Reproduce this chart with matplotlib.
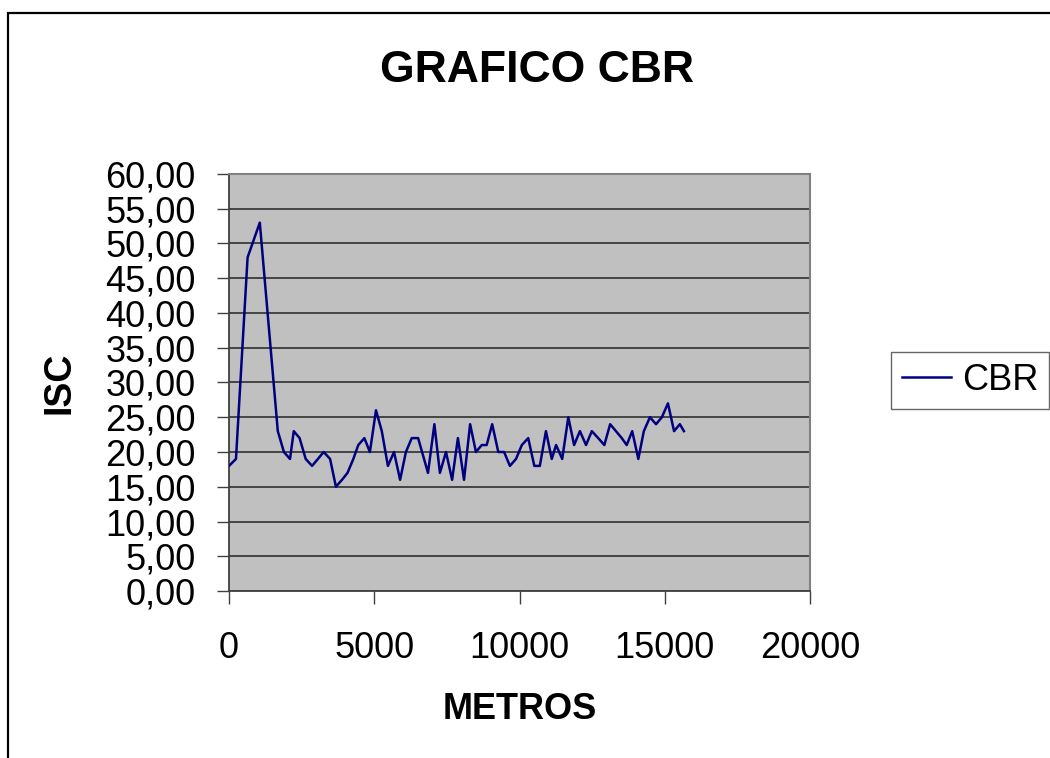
import matplotlib
matplotlib.use("Agg")
import matplotlib.pyplot as plt
from matplotlib.patches import Rectangle
from matplotlib.ticker import FuncFormatter, MultipleLocator

plt.rcParams['font.family'] = ['Liberation Sans', 'DejaVu Sans']

# station (metres) and CBR values
metros = [0, 240, 640, 1060, 1680, 1890, 2100, 2230, 2430, 2640, 2860, 3060,
          3260, 3480, 3680, 3890, 4080, 4280, 4450, 4660, 4850, 5060, 5260,
          5470, 5680, 5890, 6090, 6290, 6510, 6850, 7070, 7260, 7470, 7680,
          7880, 8090, 8300, 8500, 8700, 8870, 9060, 9270, 9470, 9670, 9880,
          10080, 10300, 10510, 10700, 10910, 11110, 11260, 11470, 11680,
          11880, 12080, 12290, 12490, 12710, 12920, 13120, 13320, 13520,
          13690, 13880, 14090, 14280, 14490, 14700, 14900, 15110, 15320,
          15520, 15660]
cbr = [18, 19, 48, 53, 23, 20, 19, 23, 22, 19, 18, 19,
       20, 19, 15, 16, 17, 19, 21, 22, 20, 26, 23,
       18, 20, 16, 20, 22, 22, 17, 24, 17, 20, 16,
       22, 16, 24, 20, 21, 21, 24, 20, 20, 18, 19,
       21, 22, 18, 18, 23, 19, 21, 19, 25,
       21, 23, 21, 23, 22, 21, 24, 23, 22,
       21, 23, 19, 23, 25, 24, 25, 27, 23,
       24, 23]

W, H = 1050, 758
fig = plt.figure(figsize=(10.5, 7.58), dpi=100)
fig.patch.set_facecolor('white')

# outer chart frame (cut off on the right and bottom)
fig.add_artist(Rectangle((8 / W, -0.1), 1.2, 1.1 - 13 / H, transform=fig.transFigure,
                         fill=False, edgecolor='black', linewidth=1.6, clip_on=False))

ax = fig.add_axes([229 / W, 1 - 591 / H, 581 / W, 417 / H])
ax.set_facecolor('#C0C0C0')
ax.plot(metros, cbr, color='#000080', linewidth=1.8, label='CBR', zorder=3)

ax.set_xlim(0, 20000)
ax.set_ylim(0, 60)
ax.xaxis.set_major_locator(MultipleLocator(5000))
ax.yaxis.set_major_locator(MultipleLocator(5))
ax.yaxis.set_major_formatter(FuncFormatter(lambda v, p: f"{v:.2f}".replace('.', ',')))
ax.grid(axis='y', color='#3a3a3a', linewidth=1.3, zorder=1)
ax.set_axisbelow(True)

for side in ['top', 'right']:
    ax.spines[side].set_color('#808080')
    ax.spines[side].set_linewidth(1.5)
for side in ['left', 'bottom']:
    ax.spines[side].set_color('#404040')
    ax.spines[side].set_linewidth(1.3)

ax.tick_params(axis='y', length=9, width=1, color='#404040', labelsize=26, pad=15)
ax.tick_params(axis='x', length=9, width=1, color='#404040', labelsize=26, pad=20)

fig.text(537 / W, 1 - 82 / H, 'GRAFICO CBR', fontsize=32, fontweight='bold',
         ha='center', va='baseline')
fig.text(519.5 / W, 1 - 719 / H, 'METROS', fontsize=26, fontweight='bold',
         ha='center', va='baseline')
fig.text(60 / W, 1 - 382.5 / H, 'ISC', fontsize=27, fontweight='bold',
         rotation=90, ha='center', va='center')

leg = fig.legend(loc='upper left', bbox_to_anchor=(891 / W, 1 - 352 / H),
                 fontsize=26, frameon=True, fancybox=False, handlelength=1.36,
                 borderpad=0.3, handletextpad=0.3, borderaxespad=0)
leg.get_frame().set_edgecolor('#404040')
leg.get_frame().set_linewidth(1.0)

fig.savefig('out.png', dpi=100)
